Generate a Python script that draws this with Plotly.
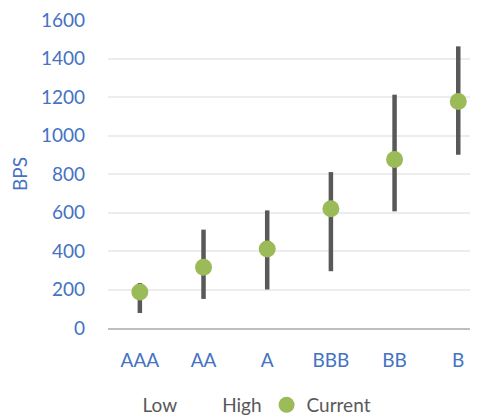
import plotly.graph_objects as go

categories = ["AAA", "AA", "A", "BBB", "BB", "B"]
low = [78, 151, 200, 295, 606, 900]
high = [234, 511, 611, 810, 1212, 1463]
current = [187, 315, 410, 620, 875, 1177]
y_ticks = [0, 200, 400, 600, 800, 1000, 1200, 1400, 1600]

BLUE = "#4472C4"
GREEN = "#9BBB59"
BAR = "#595959"
FONT = "Lato"

fig = go.Figure()

# high-low lines built from data
seg_x, seg_y = [], []
for c, lo, hi in zip(categories, low, high):
    seg_x += [c, c, None]
    seg_y += [lo, hi, None]
fig.add_trace(go.Scatter(x=seg_x, y=seg_y, mode="lines",
                         line=dict(color=BAR, width=4.5),
                         showlegend=False, hoverinfo="skip"))

fig.add_trace(go.Scatter(x=categories, y=low, name="Low", mode="markers",
                         marker=dict(size=1, color="rgba(0,0,0,0)")))
fig.add_trace(go.Scatter(x=categories, y=high, name="High", mode="markers",
                         marker=dict(size=1, color="rgba(0,0,0,0)")))
fig.add_trace(go.Scatter(x=categories, y=current, name="Current", mode="markers",
                         marker=dict(size=17, color=GREEN)))

fig.update_layout(
    width=470, height=408,
    margin=dict(l=100, r=0, t=12, b=88, autoexpand=False),
    paper_bgcolor="white", plot_bgcolor="white",
    font=dict(family=FONT, size=19, color=BLUE),
    showlegend=True,
    legend=dict(orientation="h", x=-0.015, xanchor="left", y=-0.25, yanchor="middle",
                itemwidth=30,
                font=dict(family=FONT, size=19, color="#595959"),
                bgcolor="rgba(0,0,0,0)"),
    xaxis=dict(type="category", categoryorder="array", categoryarray=categories,
               range=[-0.5, 5.31], showgrid=False, zeroline=False,
               showline=True, linecolor="#BFBFBF", linewidth=2,
               ticks="", ticklabelstandoff=14, automargin=False,
               tickfont=dict(family=FONT, size=19, color=BLUE)),
    yaxis=dict(range=[0, 1600], tickvals=y_ticks, showgrid=True,
               gridcolor="#EDEDED", gridwidth=1.5, zeroline=False, showline=False,
               ticks="", ticklabelstandoff=22, automargin=False,
               ticklabeloverflow="allow",
               tickfont=dict(family=FONT, size=19, color=BLUE),
               title=dict(text="BPS", font=dict(family=FONT, size=19, color=BLUE),
                          standoff=16)),
)

fig.write_html("out.html")
